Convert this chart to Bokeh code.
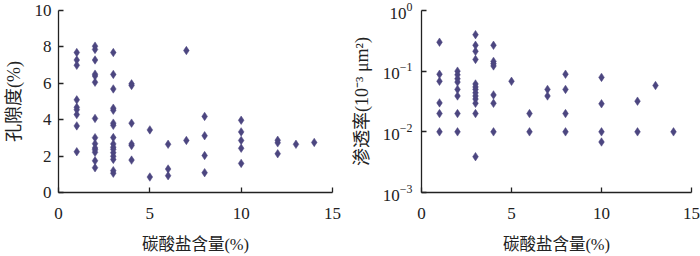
from bokeh.plotting import figure
from bokeh.layouts import row
from bokeh.models import FixedTicker, Range1d
from bokeh.embed import file_html
from bokeh.resources import INLINE

# ---- data: porosity (%) vs carbonate content (%) ----
poro_x = ([1]*9 + [2]*14 + [3]*16 + [4]*6 + [5]*2 + [6]*3 + [7]*2 + [8]*4 +
          [10]*5 + [12]*3 + [13] + [14])
poro_y = [7.69, 7.28, 6.99, 5.09, 4.68, 4.55, 4.28, 3.66, 2.24,
          8.04, 7.86, 7.28, 6.50, 6.40, 6.06, 4.07, 3.01, 2.68, 2.45, 2.35, 2.21, 1.74, 1.36,
          7.69, 6.49, 5.69, 4.63, 4.52, 3.81, 3.69, 3.02, 2.67, 2.49, 2.37, 2.19, 1.99, 1.82, 1.20, 1.06,
          5.97, 5.88, 3.81, 2.67, 2.58, 1.78,
          3.44, 0.85,
          2.65, 1.29, 0.92,
          7.80, 2.86,
          4.18, 3.12, 2.03, 1.09,
          3.97, 3.33, 2.86, 2.43, 1.60,
          2.87, 2.73, 2.13,
          2.65,
          2.75]

# ---- data: permeability (10^-3 um^2) vs carbonate content (%) ----
perm_x = ([1]*6 + [2]*8 + [3]*13 + [4]*7 + [5] + [6]*2 + [7]*2 + [8]*4 +
          [10]*4 + [12]*2 + [13] + [14])
perm_y = [0.30, 0.089, 0.068, 0.030, 0.020, 0.010,
          0.100, 0.087, 0.075, 0.066, 0.050, 0.039, 0.020, 0.010,
          0.40, 0.267, 0.212, 0.156, 0.0615, 0.055, 0.050, 0.044, 0.039, 0.0347, 0.0295, 0.020, 0.0039,
          0.267, 0.145, 0.133, 0.122, 0.0406, 0.0295, 0.010,
          0.068,
          0.020, 0.010,
          0.050, 0.039,
          0.089, 0.050, 0.020, 0.010,
          0.079, 0.029, 0.010, 0.0068,
          0.032, 0.010,
          0.058,
          0.010]

x_ticks = [0, 5, 10, 15]
poro_ticks = [0, 2, 4, 6, 8, 10]
perm_ticks = [0.001, 0.01, 0.1, 1]

x_label = "碳酸盐含量(%)"
poro_label = "孔隙度(%)"
perm_label = "渗透率(10⁻³ μm²)"

MARK = "#4C4680"
NUM_FONT = "Liberation Serif"
LAB_FONT = "Liberation Serif, Noto Sans CJK SC"


def style(p, y_std, y_lab_std):
    p.outline_line_color = None
    p.xgrid.visible = False
    p.ygrid.visible = False
    for ax in (p.xaxis[0], p.yaxis[0]):
        ax.axis_line_color = "#222222"
        ax.axis_line_width = 1.3
        ax.major_tick_line_color = "#222222"
        ax.major_tick_line_width = 1.3
        ax.major_tick_in = 5
        ax.major_tick_out = 0
        ax.minor_tick_line_color = None
        ax.major_label_text_font = NUM_FONT
        ax.major_label_text_font_size = "17px"
        ax.major_label_text_color = "#222222"
        ax.axis_label_text_font = LAB_FONT
        ax.axis_label_text_font_style = "normal"
        ax.axis_label_text_color = "#222222"
    p.xaxis[0].axis_label_text_font_size = "16.5px"
    p.yaxis[0].axis_label_text_font_size = "18px"
    p.xaxis[0].ticker = FixedTicker(ticks=x_ticks)
    p.xaxis[0].major_label_standoff = 15
    p.xaxis[0].axis_label_standoff = 13
    p.yaxis[0].major_label_standoff = y_std
    p.yaxis[0].axis_label_standoff = y_lab_std


p1 = figure(width=348, height=256, output_backend="svg", toolbar_location=None,
            x_range=Range1d(0, 15), y_range=Range1d(0, 10),
            min_border_left=52, min_border_right=16, min_border_top=10, min_border_bottom=60)
style(p1, 7, 8)
p1.yaxis[0].ticker = FixedTicker(ticks=poro_ticks)
p1.xaxis[0].axis_label = x_label
p1.yaxis[0].axis_label = poro_label
p1.scatter(x=poro_x, y=poro_y, marker="diamond", size=8.5,
           fill_color=MARK, line_color=MARK, line_width=0.5)

p2 = figure(width=352, height=256, output_backend="svg", toolbar_location=None,
            x_range=Range1d(0, 15), y_range=Range1d(0.001, 1), y_axis_type="log",
            min_border_left=65, min_border_right=9, min_border_top=10, min_border_bottom=60)
style(p2, 9, 8)
p2.yaxis[0].ticker = FixedTicker(ticks=perm_ticks)
p2.xaxis[0].axis_label = x_label
p2.yaxis[0].axis_label = perm_label
p2.scatter(x=perm_x, y=perm_y, marker="diamond", size=8.5,
           fill_color=MARK, line_color=MARK, line_width=0.5)

layout = row(p1, p2)
open("out.html", "w").write(file_html(layout, INLINE))
